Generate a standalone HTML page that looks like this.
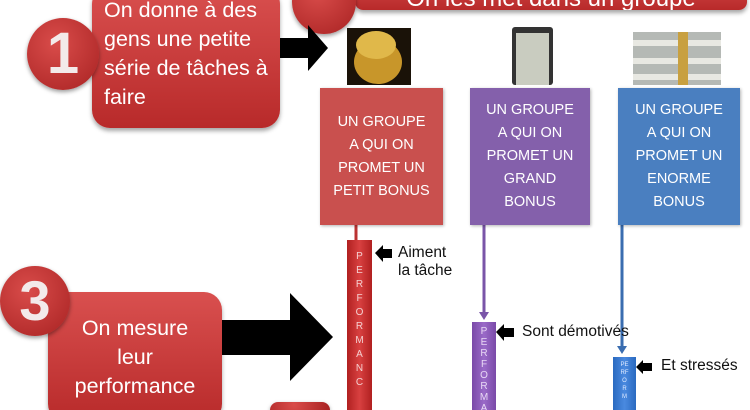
<!DOCTYPE html>
<html style="overflow:hidden;width:750px;height:410px"><head><meta charset="utf-8"><style>
body{margin:0;width:750px;height:410px;overflow:hidden;background:#fff;position:relative;font-family:"Liberation Sans",sans-serif}
.a{position:absolute}
.rb{background:linear-gradient(#d9504f,#b82a2a);border-radius:18px;color:#fff;box-shadow:0 3px 4px rgba(0,0,0,.35)}
.circ{border-radius:50%;background:radial-gradient(circle at 40% 35%,#d94c4a,#a82222);box-shadow:0 2px 4px rgba(0,0,0,.4);color:#f3eaea;font-weight:bold;text-align:center}
.col{color:#fff;font-size:14.5px;line-height:23px;text-align:center;display:flex;align-items:center;justify-content:center;box-shadow:1px 1px 3px rgba(0,0,0,.3)}
.bar{color:#f4d0d0;font-size:10px;text-align:center;line-height:14px;padding-top:10px;box-sizing:border-box}
.lbl{font-size:15.5px;color:#111;line-height:18px}
</style></head><body>
<div class="a rb" style="left:355px;top:-30px;width:392px;height:40px;border-radius:8px;font-size:24px;text-align:center;line-height:24px;padding-top:17px;box-sizing:border-box;overflow:hidden">On les met dans un groupe</div>
<div class="a circ" style="left:292px;top:-30px;width:64px;height:64px"></div>
<div class="a rb" style="left:92px;top:-14px;width:188px;height:142px;font-size:21.5px;line-height:29px;padding:10px 0 0 12px;box-sizing:border-box">On donne à des gens une petite série de tâches à faire</div>
<div class="a circ" style="left:27px;top:18px;width:72px;height:72px;font-size:58px;line-height:72px">1</div>
<svg class="a" style="left:0;top:0" width="750" height="410">
<polygon points="280,38 308,38 308,25 328,48 308,71 308,58 280,58" fill="#000"/>
<polygon points="222,320 290,320 290,293 333,337 290,381 290,355 222,355" fill="#000"/>
<line x1="356" y1="225" x2="356" y2="240" stroke="#b33" stroke-width="3"/>
<line x1="484" y1="225" x2="484" y2="314" stroke="#7a55a8" stroke-width="3"/>
<polygon points="479,312 489,312 484,320" fill="#7a55a8"/>
<line x1="622" y1="225" x2="622" y2="348" stroke="#3a6db0" stroke-width="3"/>
<polygon points="617,346 627,346 622,354" fill="#3a6db0"/>
<polygon points="375,253 383,245 383,249 392,249 392,258 383,258 383,262" fill="#000"/>
<polygon points="496,332 504,324 504,328 514,328 514,337 504,337 504,341" fill="#000"/>
<polygon points="636,367 643,360 643,363 652,363 652,371 643,371 643,374" fill="#000"/>
<rect x="347" y="28" width="64" height="57" fill="#1a1208"/><ellipse cx="378" cy="62" rx="24" ry="22" fill="#c8962a"/><ellipse cx="376" cy="45" rx="20" ry="14" fill="#e0b84a"/>
<rect x="512" y="27" width="41" height="58" rx="3" fill="#333"/><rect x="516" y="33" width="33" height="52" fill="#c9ccc0"/>
<rect x="633" y="32" width="88" height="53" fill="#b5b9b5"/><rect x="633" y="40" width="88" height="6" fill="#e8e8e2"/><rect x="633" y="58" width="88" height="6" fill="#e8e8e2"/><rect x="633" y="74" width="88" height="6" fill="#e8e8e2"/><rect x="678" y="32" width="10" height="53" fill="#c8a040"/>
</svg>
<div class="a col" style="left:320px;top:88px;width:123px;height:137px;background:#c9504e">UN GROUPE<br>A QUI ON<br>PROMET UN<br>PETIT BONUS</div>
<div class="a col" style="left:470px;top:88px;width:120px;height:137px;background:#8460ab">UN GROUPE<br>A QUI ON<br>PROMET UN<br>GRAND<br>BONUS</div>
<div class="a col" style="left:618px;top:88px;width:122px;height:137px;background:#4a7fc0">UN GROUPE<br>A QUI ON<br>PROMET UN<br>ENORME<br>BONUS</div>
<div class="a bar" style="left:347px;top:240px;width:25px;height:170px;background:linear-gradient(90deg,#b02020,#d84040,#b02020)">P<br>E<br>R<br>F<br>O<br>R<br>M<br>A<br>N<br>C</div>
<div class="a bar" style="left:472px;top:322px;width:24px;height:88px;background:linear-gradient(90deg,#7a4aa8,#9a6ac8,#7a4aa8);color:#e8d8f4;line-height:11px;padding-top:4px">P<br>E<br>R<br>F<br>O<br>R<br>M<br>A</div>
<div class="a bar" style="left:613px;top:357px;width:23px;height:53px;background:linear-gradient(90deg,#2a6ac0,#4a8ae0,#2a6ac0);color:#dfeaff;font-size:6px;line-height:8px;padding-top:4px">PE<br>RF<br>O<br>R<br>M</div>
<div class="a lbl" style="left:398px;top:244px">Aiment<br>la tâche</div>
<div class="a lbl" style="left:522px;top:323px">Sont démotivés</div>
<div class="a lbl" style="left:661px;top:357px">Et stressés</div>
<div class="a rb" style="left:48px;top:292px;width:174px;height:130px;font-size:21.5px;line-height:29px;text-align:center;padding-top:22px;box-sizing:border-box">On mesure<br>leur<br>performance</div>
<div class="a circ" style="left:0px;top:266px;width:70px;height:70px;font-size:56px;line-height:70px">3</div>
<div class="a circ" style="left:270px;top:402px;width:60px;height:8px;border-radius:30px 30px 0 0"></div>
</body></html>
